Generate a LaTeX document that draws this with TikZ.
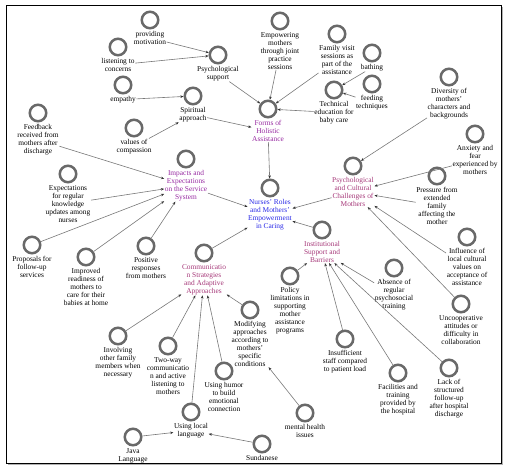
\documentclass[tikz,border=0pt]{standalone}
\usepackage{fontspec}
\setmainfont{Liberation Serif}
\usetikzlibrary{positioning,arrows.meta}
\definecolor{hubpurple}{RGB}{150,40,160}
\definecolor{hubpink}{RGB}{165,55,120}
\definecolor{hubblue}{RGB}{40,40,230}
\definecolor{ringgray}{RGB}{105,105,105}
\definecolor{linegray}{RGB}{120,120,120}
\begin{document}
\begin{tikzpicture}[x=1pt, y=-1pt,
    ring/.style={circle, draw=ringgray, line width=2.5pt, minimum size=16.5pt, inner sep=0pt},
    txt/.style={align=center, inner sep=0.5pt, font=\fontsize{7.4}{8}\selectfont},
    conn/.style={draw=linegray, line width=0.6pt, -{Stealth[length=3.2pt,width=2.6pt,color=black!80]}}]
    \useasboundingbox (0,0) rectangle (506,471);
    % 边框
    \draw[line width=1pt] (6,5) rectangle (501,463);
    \draw[gray!60, line width=1pt] (502.5,7) -- (502.5,464.5) -- (8,464.5);

    % 中心
    \node[ring] (nurses) at (270,188) {};
    \node[txt, below=1pt of nurses, text=hubblue] (nursesT) {Nurses' Roles\\and Mothers'\\Empowerment\\in Caring};

    % 主题节点
    \node[ring] (forms) at (268,109) {};
    \node[txt, below=1pt of forms, text=hubpurple] (formsT) {Forms of\\Holistic\\Assistance};
    \node[ring] (impacts) at (186,159) {};
    \node[txt, below=1pt of impacts, text=hubpurple] (impactsT) {Impacts and\\Expectations\\on the Service\\System};
    \node[ring] (psycult) at (353,166) {};
    \node[txt, below=1pt of psycult, text=hubpink] (psycultT) {Psychological\\and Cultural\\Challenges of\\Mothers};
    \node[ring] (instit) at (322,230) {};
    \node[txt, below=1pt of instit, text=hubpink] (institT) {Institutional\\Support and\\Barriers};
    \node[ring] (commun) at (204,253) {};
    \node[txt, below=1pt of commun, text=hubpink] (communT) {Communicatio\\n Strategies\\and Adaptive\\Approaches};

    % Forms of Holistic Assistance
    \node[ring] (motiv) at (150,20) {};
    \node[txt, below=1pt of motiv] (motivT) {providing\\motivation};
    \node[ring] (listen) at (118,47) {};
    \node[txt, below=1pt of listen] (listenT) {listening to\\concerns};
    \node[ring] (psysup) at (218,55) {};
    \node[txt, below=1pt of psysup] (psysupT) {Psychological\\support};
    \node[ring] (empathy) at (123,85) {};
    \node[txt, below=1pt of empathy] (empathyT) {empathy};
    \node[ring] (spirit) at (193,96) {};
    \node[txt, below=1pt of spirit] (spiritT) {Spiritual\\approach};
    \node[ring] (compass) at (134,128) {};
    \node[txt, below=1pt of compass] (compassT) {values of\\compassion};
    \node[ring] (empower) at (280,21) {};
    \node[txt, below=1pt of empower] (empowerT) {Empowering\\mothers\\through joint\\practice\\sessions};
    \node[ring] (family) at (337,34) {};
    \node[txt, below=1pt of family] (familyT) {Family visit\\sessions as\\part of the\\assistance};
    \node[ring] (bathing) at (372,53) {};
    \node[txt, below=1pt of bathing] (bathingT) {bathing};
    \node[ring] (techedu) at (334,90) {};
    \node[txt, below=1pt of techedu] (techeduT) {Technical\\education for\\baby care};
    \node[ring] (feeding) at (372,84) {};
    \node[txt, below=1pt of feeding] (feedingT) {feeding\\techniques};

    % Impacts and Expectations
    \node[ring] (feedback) at (38,113) {};
    \node[txt, below=1pt of feedback] (feedbackT) {Feedback\\received from\\mothers after\\discharge};
    \node[ring] (expect) at (68,174) {};
    \node[txt, below=1pt of expect] (expectT) {Expectations\\for regular\\knowledge\\updates among\\nurses};
    \node[ring] (proposal) at (32,245) {};
    \node[txt, below=1pt of proposal] (proposalT) {Proposals for\\follow-up\\services};
    \node[ring] (improved) at (86,257) {};
    \node[txt, below=1pt of improved] (improvedT) {Improved\\readiness of\\mothers to\\care for their\\babies at home};
    \node[ring] (positive) at (146,246) {};
    \node[txt, below=1pt of positive] (positiveT) {Positive\\responses\\from mothers};

    % Psychological and Cultural Challenges
    \node[ring] (diverse) at (449,77) {};
    \node[txt, below=1pt of diverse] (diverseT) {Diversity of\\mothers'\\characters and\\backgrounds};
    \node[ring] (anxiety) at (475,134) {};
    \node[txt, below=1pt of anxiety] (anxietyT) {Anxiety and\\fear\\experienced by\\mothers};
    \node[ring] (pressure) at (437,176) {};
    \node[txt, below=1pt of pressure] (pressureT) {Pressure from\\extended\\family\\affecting the\\mother};
    \node[ring] (influence) at (467,237) {};
    \node[txt, below=1pt of influence] (influenceT) {Influence of\\local cultural\\values on\\acceptance of\\assistance};
    \node[ring] (uncoop) at (461,304) {};
    \node[txt, below=1pt of uncoop] (uncoopT) {Uncooperative\\attitudes or\\difficulty in\\collaboration};

    % Institutional Support and Barriers
    \node[ring] (absence) at (394,268) {};
    \node[txt, below=1pt of absence] (absenceT) {Absence of\\regular\\psychosocial\\training};
    \node[ring] (policy) at (290,276) {};
    \node[txt, below=1pt of policy] (policyT) {Policy\\limitations in\\supporting\\mother\\assistance\\programs};
    \node[ring] (insuff) at (345,339) {};
    \node[txt, below=1pt of insuff] (insuffT) {Insufficient\\staff compared\\to patient load};
    \node[ring] (facil) at (398,373) {};
    \node[txt, below=1pt of facil] (facilT) {Facilities and\\training\\provided by\\the hospital};
    \node[ring] (lack) at (449,368) {};
    \node[txt, below=1pt of lack] (lackT) {Lack of\\structured\\follow-up\\after hospital\\discharge};

    % Communication Strategies
    \node[ring] (involve) at (118,336) {};
    \node[txt, below=1pt of involve] (involveT) {Involving\\other family\\members when\\necessary};
    \node[ring] (twoway) at (168,346) {};
    \node[txt, below=1pt of twoway] (twowayT) {Two-way\\communicatio\\n and active\\listening to\\mothers};
    \node[ring] (humor) at (224,371) {};
    \node[txt, below=1pt of humor] (humorT) {Using humor\\to build\\emotional\\connection};
    \node[ring] (modify) at (250,310) {};
    \node[txt, below=1pt of modify] (modifyT) {Modifying\\approaches\\according to\\mothers'\\specific\\conditions};
    \node[ring] (mental) at (305,413) {};
    \node[txt, below=1pt of mental] (mentalT) {mental health\\issues};
    \node[ring] (local) at (191,412) {};
    \node[txt, below=1pt of local] (localT) {Using local\\language};
    \node[ring] (java) at (133,437) {};
    \node[txt, below=1pt of java] (javaT) {Java\\Language};
    \node[ring] (sunda) at (262,444) {};
    \node[txt, below=1pt of sunda] (sundaT) {Sundanese};

    % 连线
    \draw[conn] (motivT) -- (psysup);
    \draw[conn] (listenT) -- (psysup);
    \draw[conn] (empathyT) -- (spirit);
    \draw[conn] (compassT) -- (spiritT);
    \draw[conn] (psysupT) -- (forms);
    \draw[conn] (spiritT) -- (formsT);
    \draw[conn] (empowerT) -- (forms);
    \draw[conn] (familyT) -- (forms);
    \draw[conn] (bathingT) -- (techedu);
    \draw[conn] (feedingT) -- (techedu);
    \draw[conn] (techeduT) -- (forms);
    \draw[conn] (formsT) -- (nurses);

    \draw[conn] (feedbackT) -- (impactsT);
    \draw[conn] (expectT) -- (impactsT);
    \draw[conn] (proposal) -- (impactsT);
    \draw[conn] (improved) -- (impactsT);
    \draw[conn] (positive) -- (impactsT);
    \draw[conn] (impactsT) -- (nursesT);

    \draw[conn] (diverseT) -- (psycult);
    \draw[conn] (anxietyT) -- (psycultT);
    \draw[conn] (pressureT) -- (psycultT);
    \draw[conn] (influenceT) -- (psycultT);
    \draw[conn] (uncoop) -- (psycultT);
    \draw[conn] (psycultT) -- (nursesT);

    \draw[conn] (policy) -- (institT);
    \draw[conn] (absenceT) -- (institT);
    \draw[conn] (insuff) -- (institT);
    \draw[conn] (facil) -- (institT);
    \draw[conn] (lack) -- (institT);
    \draw[conn] (instit) -- (nursesT);

    \draw[conn] (involve) -- (communT);
    \draw[conn] (twoway) -- (communT);
    \draw[conn] (local) -- (communT);
    \draw[conn] (humor) -- (communT);
    \draw[conn] (modify) -- (communT);
    \draw[conn] (mental) -- (modifyT);
    \draw[conn] (java) -- (localT);
    \draw[conn] (sunda) -- (localT);
    \draw[conn] (commun) -- (nursesT);
\end{tikzpicture}
\end{document}
